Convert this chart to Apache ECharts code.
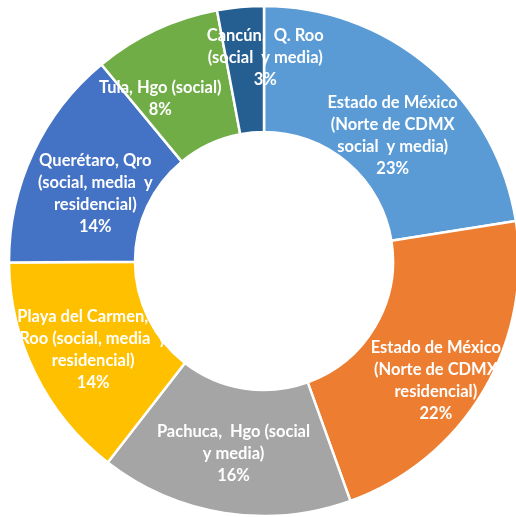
<!DOCTYPE html>
<html>
<head>
<meta charset="utf-8">
<script src="https://cdn.jsdelivr.net/npm/echarts@6/dist/echarts.min.js"></script>
<style>
html,body{margin:0;padding:0;background:#fff;}
#c{width:516px;height:517px;}
</style>
</head>
<body>
<div id="c"></div>
<script>
var categories = [
  "Estado de México\n(Norte de CDMX\nsocial  y media)",
  "Estado de México\n(Norte de CDMX\nresidencial)",
  "Pachuca,  Hgo (social\ny media)",
  "Playa del Carmen, Q.\nRoo (social, media  y\nresidencial)",
  "Querétaro, Qro\n(social, media  y\nresidencial)",
  "Tula, Hgo (social)",
  "Cancún,  Q. Roo\n(social  y media)"
];
var values = [22.5, 22.0, 16.0, 14.4, 14.1, 8.05, 2.95];
var colors = ["#5B9BD5", "#ED7D31", "#A5A5A5", "#FFC000", "#4472C4", "#70AD47", "#255E91"];
var labelOffsets = [[2, 23], [4, 20], [0, 0], [4, 2], [8, 15], [-21, 14], [19, -12]];

var FONT_SIZE = 16.5, LINE_H = 22;
var chart = echarts.init(document.getElementById('c'), null, {renderer: 'canvas'});
var data = categories.map(function (n, i) {
  return {
    name: n,
    value: values[i],
    itemStyle: {color: colors[i]},
    label: {offset: labelOffsets[i], show: i !== 6}
  };
});
function labelText(name, v) { return name + '\n' + Math.round(v) + '%'; }
chart.setOption({
  animation: false,
  series: [{
    type: 'pie',
    center: [264, 261],
    radius: [129, 255],
    startAngle: 90,
    clockwise: true,
    silent: true,
    avoidLabelOverlap: false,
    itemStyle: {borderColor: '#ffffff', borderWidth: 2.5},
    label: {
      show: true,
      position: 'inside',
      color: '#ffffff',
      fontFamily: 'Lato',
      fontWeight: 'bold',
      fontSize: FONT_SIZE,
      lineHeight: LINE_H,
      align: 'center',
      formatter: function (p) { return labelText(p.name, p.value); }
    },
    labelLine: {show: false},
    data: data
  }]
});
// label for the thin last slice, placed from the library's own sector layout
(function () {
  var idx = 6;
  var lay = chart.getModel().getSeriesByIndex(0).getData().getItemLayout(idx);
  var mid = (lay.startAngle + lay.endAngle) / 2;
  var rm = (lay.r + lay.r0) / 2;
  var x = lay.cx + rm * Math.cos(mid) + labelOffsets[idx][0];
  var y = lay.cy + rm * Math.sin(mid) + labelOffsets[idx][1];
  chart.setOption({
    graphic: [{
      type: 'text',
      x: x, y: y,
      silent: true,
      z: 100,
      style: {
        text: labelText(categories[idx], values[idx]),
        fill: '#ffffff',
        fontFamily: 'Lato',
        fontWeight: 'bold',
        fontSize: FONT_SIZE,
        lineHeight: LINE_H,
        align: 'center',
        verticalAlign: 'middle'
      }
    }]
  });
})();
</script>
</body>
</html>
